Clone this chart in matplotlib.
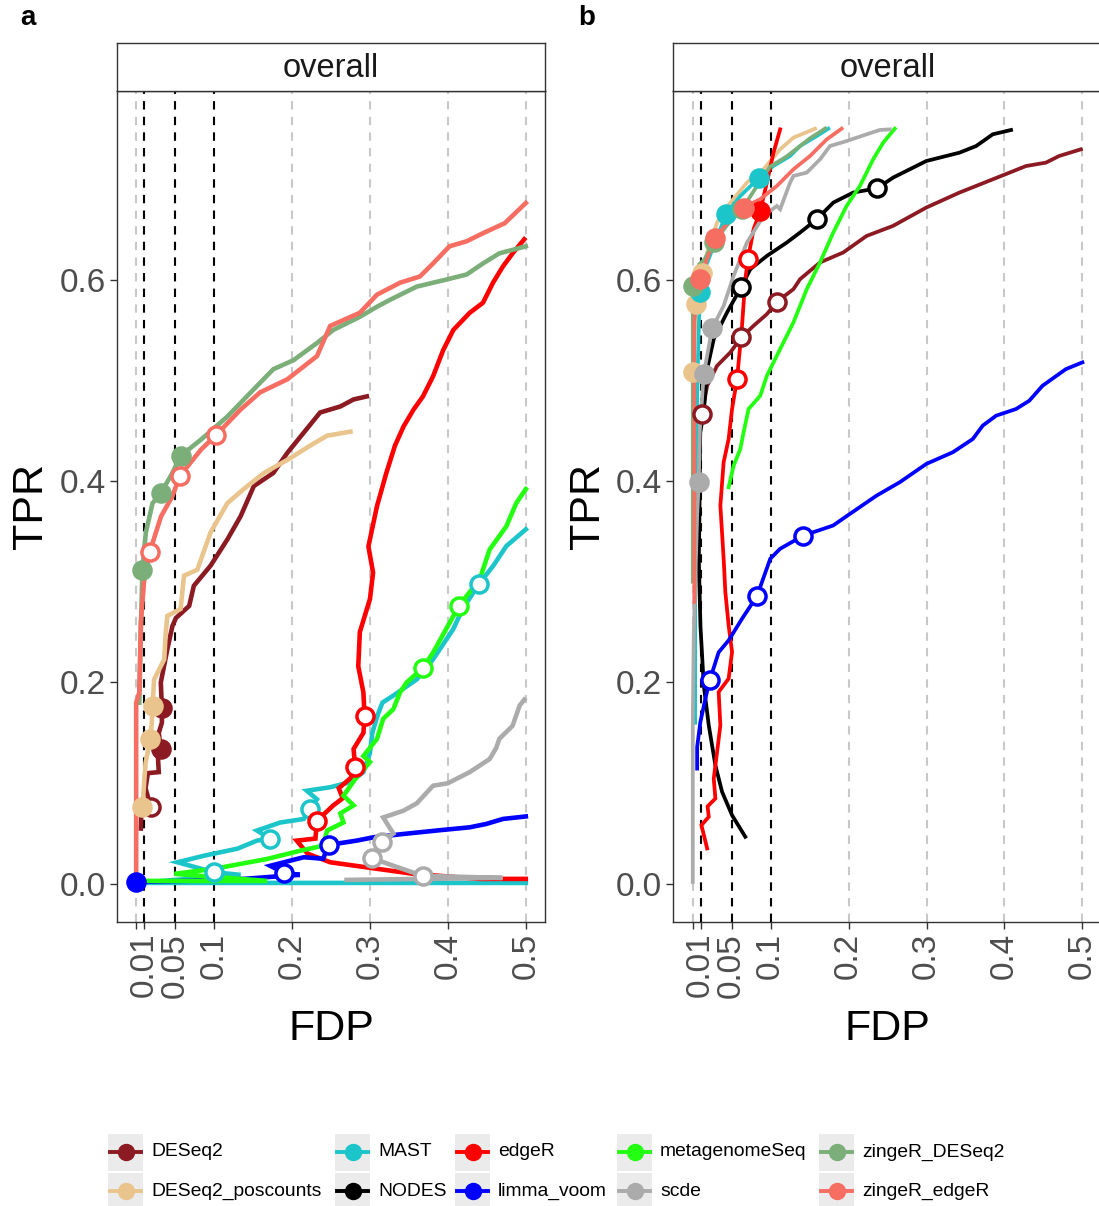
"""
FDP/TPR curves for the DE methods, two simulation panels (a, b).
"""

import matplotlib.pyplot as plt
from matplotlib.patches import Rectangle
from matplotlib.lines import Line2D

plt.rcParams['font.family'] = ['Liberation Sans', 'DejaVu Sans']

# methods, in the order ggplot draws them
methods = ['DESeq2', 'DESeq2_poscounts', 'MAST', 'NODES', 'edgeR', 'limma_voom',
           'metagenomeSeq', 'scde', 'zingeR_DESeq2', 'zingeR_edgeR']
colors = ['#8C1A22', '#E9C48D', '#1CC5C9', '#000000', '#FF0000', '#0000FF',
          '#22FF11', '#ABABAB', '#7CAE7A', '#F66D62']

fdr_thresholds = [0.01, 0.05, 0.1]
x_ticks = [0, 0.01, 0.05, 0.1, 0.2, 0.3, 0.4, 0.5]
x_ticklabels = ['', '0.01', '0.05', '0.1', '0.2', '0.3', '0.4', '0.5']
y_ticks = [0.0, 0.2, 0.4, 0.6]
y_ticklabels = ['0.0', '0.2', '0.4', '0.6']

# ---- panel a: curves as (FDP, TPR) ----
a_deseq2 = [(0.006, 0.055), (0.007, 0.08), (0.0188, 0.076), (0.012, 0.095), (0.015, 0.11),
            (0.029, 0.111), (0.028, 0.125), (0.0316, 0.134), (0.029, 0.15), (0.033, 0.16),
            (0.033, 0.175), (0.0316, 0.2), (0.040, 0.233), (0.0465, 0.256), (0.051, 0.264),
            (0.068, 0.276), (0.074, 0.296), (0.0955, 0.316), (0.117, 0.342), (0.134, 0.365),
            (0.151, 0.395), (0.176, 0.408), (0.194, 0.428), (0.215, 0.448), (0.236, 0.468),
            (0.262, 0.474), (0.279, 0.481), (0.296, 0.484)]
a_deseq2_pos = [(0.008, 0.076), (0.0102, 0.1), (0.012, 0.12), (0.018, 0.144), (0.02, 0.16),
                (0.021, 0.177), (0.023, 0.203), (0.036, 0.223), (0.038, 0.25), (0.04, 0.266),
                (0.057, 0.273), (0.0614, 0.306), (0.0785, 0.312), (0.0955, 0.349),
                (0.117, 0.378), (0.138, 0.392), (0.164, 0.408), (0.194, 0.421),
                (0.223, 0.435), (0.245, 0.445), (0.275, 0.449)]
a_mast = [(0.5, 0.001), (0.0, 0.001), (0.134, 0.009), (0.0997, 0.0116), (0.053, 0.0215),
          (0.087, 0.028), (0.13, 0.035), (0.155, 0.043), (0.172, 0.045), (0.155, 0.053),
          (0.185, 0.061), (0.215, 0.0645), (0.2234, 0.074), (0.232, 0.084), (0.219, 0.0925),
          (0.249, 0.096), (0.2746, 0.101), (0.2916, 0.111), (0.30, 0.13), (0.303, 0.15),
          (0.31, 0.168), (0.316, 0.18), (0.33, 0.187), (0.345, 0.195), (0.36, 0.203),
          (0.381, 0.223), (0.4067, 0.2528), (0.419, 0.273), (0.4395, 0.2975),
          (0.458, 0.3156), (0.475, 0.3354), (0.5, 0.352)]
a_nodes = []
a_edger = [(0.5, 0.005), (0.44, 0.005), (0.356, 0.010), (0.30, 0.016), (0.249, 0.0215),
           (0.22, 0.03), (0.206, 0.043), (0.23, 0.045), (0.232, 0.0628), (0.253, 0.078),
           (0.265, 0.085), (0.26, 0.095), (0.275, 0.105), (0.281, 0.116), (0.279, 0.134),
           (0.2916, 0.15), (0.293, 0.167), (0.2916, 0.19), (0.285, 0.216), (0.287, 0.25),
           (0.300, 0.283), (0.304, 0.309), (0.298, 0.335), (0.309, 0.375), (0.321, 0.408),
           (0.332, 0.435), (0.343, 0.454), (0.356, 0.471), (0.368, 0.484), (0.381, 0.504),
           (0.394, 0.53), (0.407, 0.55), (0.428, 0.567), (0.445, 0.577), (0.458, 0.597),
           (0.4706, 0.613), (0.483, 0.626), (0.498, 0.64)]
a_limma = [(0.0, 0.002), (0.12, 0.004), (0.19, 0.008), (0.21, 0.009), (0.19, 0.011),
           (0.172, 0.018), (0.215, 0.0265), (0.24, 0.025), (0.2468, 0.0387), (0.283, 0.043),
           (0.3044, 0.0463), (0.343, 0.0496), (0.3854, 0.053), (0.428, 0.0562),
           (0.449, 0.0595), (0.4706, 0.0645), (0.5, 0.067)]
a_metagenome = [(0.0, 0.003), (0.168, 0.003), (0.049, 0.01), (0.1, 0.015), (0.168, 0.0248),
                (0.2106, 0.033), (0.24, 0.038), (0.245, 0.053), (0.266, 0.061), (0.262, 0.07),
                (0.279, 0.078), (0.266, 0.0876), (0.281, 0.104), (0.300, 0.121),
                (0.2916, 0.127), (0.309, 0.144), (0.317, 0.164), (0.33, 0.1735),
                (0.3385, 0.19), (0.347, 0.2), (0.3675, 0.214), (0.381, 0.2297),
                (0.4024, 0.2595), (0.414, 0.276), (0.4408, 0.3024), (0.4536, 0.332),
                (0.475, 0.355), (0.4877, 0.378), (0.5, 0.392)]
a_scde = [(0.27, 0.004), (0.47, 0.006), (0.368, 0.008), (0.33, 0.018), (0.3023, 0.0258),
          (0.31, 0.035), (0.315, 0.042), (0.33, 0.05), (0.317, 0.066), (0.343, 0.0727),
          (0.36, 0.08), (0.381, 0.0975), (0.40, 0.10), (0.428, 0.111), (0.4536, 0.124),
          (0.462, 0.135), (0.466, 0.144), (0.483, 0.157), (0.492, 0.177), (0.498, 0.183)]
a_zinger_deseq2 = [(0.004, 0.18), (0.006, 0.25), (0.008, 0.312), (0.0124, 0.349),
                   (0.021, 0.378), (0.0316, 0.388), (0.0465, 0.408), (0.057, 0.425),
                   (0.083, 0.441), (0.117, 0.464), (0.142, 0.484), (0.176, 0.511),
                   (0.202, 0.52), (0.232, 0.537), (0.253, 0.55), (0.287, 0.563),
                   (0.309, 0.573), (0.326, 0.58), (0.36, 0.593), (0.398, 0.6),
                   (0.424, 0.605), (0.445, 0.616), (0.466, 0.626), (0.5, 0.633)]
a_zinger_edger = [(0.0, 0.0), (0.0, 0.18), (0.004, 0.19), (0.006, 0.26), (0.01, 0.30),
                  (0.0175, 0.33), (0.032, 0.365), (0.0465, 0.385), (0.056, 0.405),
                  (0.083, 0.431), (0.103, 0.446), (0.134, 0.471), (0.159, 0.488),
                  (0.194, 0.501), (0.232, 0.524), (0.249, 0.554), (0.287, 0.567),
                  (0.309, 0.585), (0.339, 0.597), (0.364, 0.603), (0.381, 0.616),
                  (0.402, 0.633), (0.424, 0.638), (0.445, 0.646), (0.473, 0.656),
                  (0.5, 0.676)]

# threshold points (FDP, TPR, filled)
a_deseq2_pts = [(0.0188, 0.076, False), (0.0316, 0.134, True), (0.033, 0.175, True)]
a_deseq2_pos_pts = [(0.008, 0.076, True), (0.018, 0.144, True), (0.021, 0.177, True)]
a_mast_pts = [(0.0997, 0.0116, False), (0.172, 0.045, False), (0.2234, 0.074, False),
              (0.4395, 0.2975, False)]
a_nodes_pts = []
a_edger_pts = [(0.232, 0.0628, False), (0.281, 0.116, False), (0.293, 0.167, False)]
a_limma_pts = [(0.0, 0.002, True), (0.19, 0.011, False), (0.2468, 0.0387, False)]
a_metagenome_pts = [(0.3675, 0.214, False), (0.414, 0.276, False)]
a_scde_pts = [(0.3023, 0.0258, False), (0.315, 0.042, False), (0.368, 0.0076, False)]
a_zinger_deseq2_pts = [(0.008, 0.312, True), (0.0316, 0.388, True), (0.057, 0.425, True)]
a_zinger_edger_pts = [(0.0175, 0.33, False), (0.056, 0.405, False), (0.103, 0.446, False)]

# ---- panel b ----
b_deseq2 = [(0.012, 0.4665), (0.0184, 0.4946), (0.0312, 0.5144), (0.0482, 0.5277),
            (0.0623, 0.5426), (0.078, 0.5541), (0.0951, 0.5657), (0.1079, 0.5779),
            (0.1292, 0.5905), (0.1377, 0.6004), (0.1633, 0.617), (0.1931, 0.6269),
            (0.223, 0.6433), (0.257, 0.6533), (0.2997, 0.6715), (0.3423, 0.6864),
            (0.3849, 0.6995), (0.4276, 0.7127), (0.4532, 0.7161), (0.4702, 0.7227),
            (0.498, 0.7293)]
b_deseq2_pos = [(0.0, 0.50), (0.0, 0.508), (0.0043, 0.5756), (0.012, 0.6063),
                (0.0184, 0.6269), (0.0312, 0.6566), (0.0482, 0.6764), (0.0695, 0.6963),
                (0.0908, 0.7095), (0.1121, 0.7293), (0.1292, 0.7409), (0.1569, 0.7498)]
b_mast = [(0.003, 0.16), (0.003, 0.28), (0.004, 0.40), (0.006, 0.50), (0.008, 0.56),
          (0.0098, 0.5872), (0.015, 0.61), (0.0269, 0.6334), (0.0427, 0.6649),
          (0.061, 0.683), (0.0853, 0.7012), (0.1036, 0.7128), (0.1249, 0.7227),
          (0.1377, 0.7326), (0.1591, 0.7425), (0.1739, 0.7498)]
b_nodes = [(0.0674, 0.0468), (0.0504, 0.0682), (0.0376, 0.0914), (0.029, 0.1178),
           (0.0205, 0.1575), (0.0141, 0.1971), (0.0098, 0.2566), (0.0077, 0.3228),
           (0.0085, 0.3624), (0.0095, 0.448), (0.0141, 0.4682), (0.0184, 0.511),
           (0.0269, 0.541), (0.044, 0.5674), (0.0623, 0.5928), (0.0738, 0.6103),
           (0.0951, 0.6235), (0.1207, 0.6368), (0.1377, 0.6467), (0.1591, 0.6599),
           (0.1803, 0.6764), (0.2059, 0.6864), (0.2366, 0.6906), (0.257, 0.7012),
           (0.2997, 0.7177), (0.3423, 0.726), (0.3637, 0.7326), (0.3849, 0.7442),
           (0.4084, 0.7485)]
b_edger = [(0.0184, 0.0352), (0.0111, 0.0583), (0.0205, 0.0666), (0.019, 0.077),
           (0.029, 0.0848), (0.0269, 0.1046), (0.0312, 0.1311), (0.0354, 0.1575),
           (0.0332, 0.1906), (0.046, 0.2038), (0.0504, 0.2302), (0.046, 0.2566),
           (0.0418, 0.2897), (0.0396, 0.3228), (0.0354, 0.3756), (0.0396, 0.4187),
           (0.046, 0.4417), (0.0504, 0.4715), (0.0568, 0.5012), (0.0632, 0.5541),
           (0.0674, 0.6004), (0.0708, 0.6202), (0.078, 0.65), (0.0866, 0.6681),
           (0.0951, 0.6963), (0.1036, 0.726), (0.1121, 0.7491)]
b_limma = [(0.0056, 0.1145), (0.0056, 0.136), (0.0098, 0.161), (0.0162, 0.184),
           (0.0217, 0.202), (0.0332, 0.23), (0.046, 0.2418), (0.0632, 0.2633),
           (0.0824, 0.2858), (0.0994, 0.3228), (0.112, 0.3327), (0.142, 0.3459),
           (0.180, 0.3558), (0.2017, 0.3674), (0.2358, 0.3855), (0.2656, 0.3988),
           (0.2997, 0.417), (0.3338, 0.4286), (0.3593, 0.4417), (0.3721, 0.455),
           (0.3893, 0.4649), (0.4148, 0.4715), (0.4318, 0.4797), (0.4488, 0.4946),
           (0.4788, 0.5111), (0.5, 0.5178)]
b_metagenome = [(0.046, 0.3938), (0.0524, 0.4153), (0.061, 0.4318), (0.0652, 0.4484),
                (0.0716, 0.4715), (0.0866, 0.4847), (0.0951, 0.5045), (0.1121, 0.531),
                (0.1292, 0.5575), (0.1463, 0.5905), (0.1633, 0.617), (0.1803, 0.6467),
                (0.1974, 0.6731), (0.2145, 0.6929), (0.2315, 0.7194), (0.2443, 0.7359),
                (0.2592, 0.7498)]
b_scde = [(0.0, 0.002), (0.0, 0.16), (0.0013, 0.25), (0.0056, 0.3657), (0.0077, 0.3988),
          (0.009, 0.45), (0.0141, 0.5062), (0.0248, 0.5515), (0.0396, 0.5739),
          (0.0524, 0.6037), (0.0695, 0.6368), (0.0908, 0.6632), (0.1079, 0.6731),
          (0.1121, 0.6698), (0.1249, 0.6963), (0.1292, 0.7029), (0.1463, 0.7062),
          (0.1633, 0.7194), (0.1761, 0.7326), (0.1974, 0.7375), (0.223, 0.7442),
          (0.24, 0.7485), (0.2528, 0.7491)]
b_zinger_deseq2 = [(0.0, 0.30), (0.0, 0.594), (0.008, 0.615), (0.015, 0.62),
                   (0.0269, 0.6368), (0.045, 0.655), (0.0632, 0.6698), (0.08, 0.69),
                   (0.099, 0.712), (0.12, 0.722), (0.15, 0.74), (0.17, 0.75)]
b_zinger_edger = [(0.002, 0.28), (0.002, 0.56), (0.0098, 0.6004), (0.018, 0.62),
                  (0.029, 0.6413), (0.0482, 0.6599), (0.0652, 0.6715), (0.0866, 0.6798),
                  (0.1079, 0.6929), (0.1292, 0.7095), (0.1505, 0.7227), (0.1719, 0.7392),
                  (0.191, 0.7498)]

b_deseq2_pts = [(0.012, 0.4665, False), (0.0623, 0.5426, False), (0.1079, 0.5779, False)]
b_deseq2_pos_pts = [(0.0, 0.508, True), (0.0043, 0.5756, True), (0.012, 0.6063, True)]
b_mast_pts = [(0.0098, 0.5872, True), (0.0427, 0.6649, True), (0.0853, 0.7012, True)]
b_nodes_pts = [(0.0623, 0.5928, False), (0.1591, 0.6599, False), (0.2366, 0.6906, False)]
b_edger_pts = [(0.0568, 0.5012, False), (0.0708, 0.6202, False), (0.0866, 0.6681, True)]
b_limma_pts = [(0.0217, 0.202, False), (0.0824, 0.2858, False), (0.142, 0.3459, False)]
b_metagenome_pts = []
b_scde_pts = [(0.0077, 0.3988, True), (0.0141, 0.5062, True), (0.0248, 0.5515, True)]
b_zinger_deseq2_pts = [(0.0, 0.594, True), (0.0269, 0.6368, True), (0.0632, 0.6698, True)]
b_zinger_edger_pts = [(0.0098, 0.6004, True), (0.029, 0.6413, True), (0.0652, 0.6715, True)]

panel_a_curves = [a_deseq2, a_deseq2_pos, a_mast, a_nodes, a_edger, a_limma,
                  a_metagenome, a_scde, a_zinger_deseq2, a_zinger_edger]
panel_a_points = [a_deseq2_pts, a_deseq2_pos_pts, a_mast_pts, a_nodes_pts, a_edger_pts,
                  a_limma_pts, a_metagenome_pts, a_scde_pts, a_zinger_deseq2_pts,
                  a_zinger_edger_pts]
panel_b_curves = [b_deseq2, b_deseq2_pos, b_mast, b_nodes, b_edger, b_limma,
                  b_metagenome, b_scde, b_zinger_deseq2, b_zinger_edger]
panel_b_points = [b_deseq2_pts, b_deseq2_pos_pts, b_mast_pts, b_nodes_pts, b_edger_pts,
                  b_limma_pts, b_metagenome_pts, b_scde_pts, b_zinger_deseq2_pts,
                  b_zinger_edger_pts]

W, H = 1099, 1206
fig = plt.figure(figsize=(W / 100, H / 100), dpi=100)


def px_box(left, top, right, bottom):
    """pixel box -> figure fraction rect"""
    return [left / W, 1 - bottom / H, (right - left) / W, (bottom - top) / H]


def draw_panel(left, curves, points, lw, label, label_x):
    ax = fig.add_axes(px_box(left, 90.7, left + 428.6, 921.7))
    ax.set_xlim(-0.025, 0.525)
    ax.set_ylim(-0.0375, 0.7875)
    for xv in x_ticks:
        ax.axvline(xv, color='#C8C8C8', lw=1.5, ls=(0, (4, 3.5)), zorder=1)
    for t in fdr_thresholds:
        ax.axvline(t, color='black', lw=1.5, ls=(0, (4, 3.5)), zorder=2)
    for curve, col in zip(curves, colors):
        if not curve:
            continue
        xs = [p[0] for p in curve]
        ys = [p[1] for p in curve]
        ax.plot(xs, ys, color=col, lw=lw, solid_joinstyle='miter', zorder=3)
    for pts, col in zip(points, colors):
        for fx, ty, filled in pts:
            ax.plot([fx], [ty], 'o', ms=12.3, mec=col, mew=2.5,
                    mfc=col if filled else 'white', zorder=4)
    ax.set_xticks(x_ticks)
    ax.set_xticklabels(x_ticklabels, rotation=90, fontsize=24, color='#4D4D4D')
    ax.set_yticks(y_ticks)
    ax.set_yticklabels(y_ticklabels, fontsize=24, color='#4D4D4D')
    ax.tick_params(length=5, width=1, color='#333333', pad=3)
    for s in ax.spines.values():
        s.set_color('#333333')
        s.set_linewidth(1.0)
    ax.set_xlabel('FDP', fontsize=31, labelpad=8)
    ax.set_ylabel('TPR', fontsize=31, labelpad=6)

    strip = fig.add_axes(px_box(left, 43.3, left + 428.6, 90.7))
    strip.set_xticks([])
    strip.set_yticks([])
    for s in strip.spines.values():
        s.set_color('#333333')
        s.set_linewidth(1.0)
    strip.text(0.5, 0.47, 'overall', ha='center', va='center', fontsize=23.5,
               color='#1A1A1A', transform=strip.transAxes)
    fig.text(label_x / W, 1 - 18 / H, label, fontsize=20, fontweight='bold',
             ha='center', va='center')
    return ax


draw_panel(116.7, panel_a_curves, panel_a_points, 3.3, 'a', 28)
draw_panel(673.3, panel_b_curves, panel_b_points, 2.7, 'b', 587)

# legend, drawn by hand so the keys get ggplot's grey boxes
leg = fig.add_axes([0, 0, 1, 1])
leg.set_xlim(0, W)
leg.set_ylim(H, 0)
leg.axis('off')
col_x = [108, 335, 455, 617, 819]
row_y = [1152, 1191]
for i, (name, col) in enumerate(zip(methods, colors)):
    kx = col_x[i // 2]
    ky = row_y[i % 2]
    leg.add_patch(Rectangle((kx, ky - 18.5), 35, 37, facecolor='#EBEBEB', edgecolor='none'))
    leg.add_line(Line2D([kx + 2, kx + 33], [ky, ky], color=col, lw=2.8))
    leg.plot([kx + 17.5], [ky], 'o', color=col, ms=11.5)
    leg.text(kx + 43, ky, name, fontsize=13.9, va='center', ha='left')

fig.savefig('out.png', dpi=100)
